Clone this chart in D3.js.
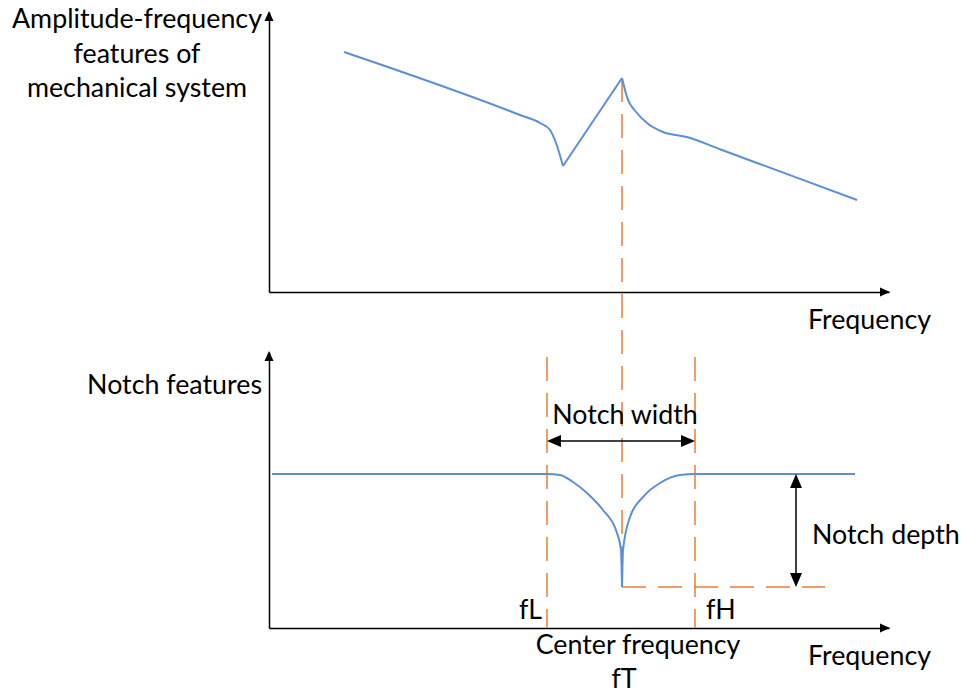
<!DOCTYPE html>
<html><head><meta charset="utf-8">
<script src="https://cdn.jsdelivr.net/npm/d3@7/dist/d3.min.js"></script>
<style>
html,body{margin:0;padding:0;background:#fff;}
text{font-family:Lato,"Open Sans",sans-serif;font-size:26.8px;fill:#000;}
</style></head>
<body>
<svg id="chart" width="961" height="695"></svg>
<script>
// ---- data (arbitrary units: frequency 0-100, amplitude 0-100) ----
// Top panel: amplitude-frequency response of the mechanical system
const topFreqA = [12.10, 40.48, 43.71, 45.32, 46.29, 47.42];
const topAmpA  = [85.71, 63.21, 60.36, 57.86, 53.21, 45.00];
const topFreqB = [47.42, 56.94];
const topAmpB  = [45.00, 76.43];
const topFreqC = [56.94, 57.74, 59.35, 60.97, 63.55, 67.42, 72.74, 84.03, 94.84];
const topAmpC  = [76.43, 69.64, 63.93, 60.36, 57.14, 55.36, 50.99, 41.73, 32.86];

// Bottom panel: notch filter features
const notchFreqL = [0.48, 44.84, 46.94, 49.03, 51.29, 53.87, 56.13, 56.77, 56.94];
const notchAmpL  = [55.80, 55.80, 55.43, 52.90, 48.91, 42.75, 34.42, 28.26, 14.86];
const notchFreqR = [56.94, 57.10, 58.23, 60.32, 63.06, 66.29, 68.71, 94.52];
const notchAmpR  = [14.86, 28.26, 40.22, 47.46, 52.54, 55.43, 55.80, 55.80];

// Key frequencies and levels
const fL = 44.84, fT = 56.94, fH = 68.71;
const passLevel = 55.80, notchBottom = 14.86;
const depthLineEnd = 89.68, depthArrowX = 85.0;
const guideTop = 98.2;

// Labels
const topYLabel = ["Amplitude-frequency", "features of", "mechanical system"];
const xLabel = "Frequency";
const bottomYLabel = "Notch features";
const widthLabel = "Notch width";
const depthLabel = "Notch depth";
const centerLabel = ["Center frequency", "fT"];
const fLLabel = "fL", fHLabel = "fH";

// ---- scales ----
const x = d3.scaleLinear().domain([0, 100]).range([269, 889]);
const yTop = d3.scaleLinear().domain([0, 100]).range([292, 12]);
const yBot = d3.scaleLinear().domain([0, 100]).range([628, 352]);

const svg = d3.select("#chart");
const blue = "#5B8FD6", orange = "#ED7D31";

function arrowHead(g, tipX, tipY, dir, len, half) {
  let pts;
  if (dir === "right") pts = [[tipX, tipY], [tipX - len, tipY - half], [tipX - len, tipY + half]];
  if (dir === "left") pts = [[tipX, tipY], [tipX + len, tipY - half], [tipX + len, tipY + half]];
  if (dir === "up") pts = [[tipX, tipY], [tipX - half, tipY + len], [tipX + half, tipY + len]];
  if (dir === "down") pts = [[tipX, tipY], [tipX - half, tipY - len], [tipX + half, tipY - len]];
  g.append("path").attr("d", "M" + pts.map(p => p.join(",")).join("L") + "Z").attr("fill", "#000");
}

// ---- axes ----
function drawAxes(yScale) {
  const gx = svg.append("g").attr("transform", `translate(0,${yScale(0)})`)
    .call(d3.axisBottom(x).tickValues([]).tickSizeOuter(0));
  const gy = svg.append("g").attr("transform", `translate(${x(0)},0)`)
    .call(d3.axisLeft(yScale).tickValues([]).tickSizeOuter(0));
  [gx, gy].forEach(g => g.select(".domain").attr("stroke", "#000").attr("stroke-width", 1.5));
  arrowHead(svg, x(100) + 1, yScale(0), "right", 10, 4.5);
  arrowHead(svg, x(0), yScale(100) - 1, "up", 10, 4.5);
}
drawAxes(yTop);
drawAxes(yBot);

// ---- guide lines (orange dashed) ----
const dash = "24,12";
function vline(xv, y1, y2) {
  svg.append("line").attr("x1", x(xv)).attr("x2", x(xv)).attr("y1", y1).attr("y2", y2)
    .attr("stroke", orange).attr("stroke-width", 1.5).attr("stroke-dasharray", dash);
}
vline(fT, yTop(topAmpB[1]), yBot(notchBottom));
vline(fL, yBot(guideTop), yBot(0));
vline(fH, yBot(guideTop), yBot(0));
svg.append("line").attr("x1", x(fT)).attr("x2", x(depthLineEnd))
  .attr("y1", yBot(notchBottom)).attr("y2", yBot(notchBottom))
  .attr("stroke", orange).attr("stroke-width", 1.5).attr("stroke-dasharray", dash);

// ---- curves ----
function drawCurve(xs, ys, yScale) {
  const line = d3.line().x(d => x(d[0])).y(d => yScale(d[1])).curve(d3.curveMonotoneX);
  svg.append("path").datum(xs.map((v, i) => [v, ys[i]])).attr("d", line)
    .attr("fill", "none").attr("stroke", blue).attr("stroke-width", 2).attr("stroke-linejoin", "round");
}
drawCurve(topFreqA, topAmpA, yTop);
drawCurve(topFreqB, topAmpB, yTop);
drawCurve(topFreqC, topAmpC, yTop);
drawCurve(notchFreqL, notchAmpL, yBot);
drawCurve(notchFreqR, notchAmpR, yBot);

// ---- notch width arrow ----
const wy = 441;
svg.append("line").attr("x1", x(fL) + 8).attr("x2", x(fH) - 8).attr("y1", wy).attr("y2", wy)
  .attr("stroke", "#000").attr("stroke-width", 1.5);
arrowHead(svg, x(fL), wy, "left", 14, 6);
arrowHead(svg, x(fH), wy, "right", 14, 6);

// ---- notch depth arrow ----
const dx = x(depthArrowX);
svg.append("line").attr("x1", dx).attr("x2", dx).attr("y1", yBot(passLevel) + 8).attr("y2", yBot(notchBottom) - 8)
  .attr("stroke", "#000").attr("stroke-width", 1.5);
arrowHead(svg, dx, yBot(passLevel), "up", 14, 6);
arrowHead(svg, dx, yBot(notchBottom), "down", 14, 6);

// ---- text ----
const tl = svg.append("text").attr("text-anchor", "middle");
topYLabel.forEach((s, i) => tl.append("tspan").attr("x", 137).attr("y", 28 + i * 34.5).text(s));
svg.append("text").attr("x", 808).attr("y", 329).text(xLabel);
svg.append("text").attr("x", 808).attr("y", 665).text(xLabel);
svg.append("text").attr("x", 262).attr("y", 394).attr("text-anchor", "end").text(bottomYLabel);
svg.append("text").attr("x", 625).attr("y", 424).attr("text-anchor", "middle").text(widthLabel);
svg.append("text").attr("x", 812).attr("y", 544).text(depthLabel);
svg.append("text").attr("x", 542).attr("y", 619).attr("text-anchor", "end").text(fLLabel);
svg.append("text").attr("x", 706).attr("y", 619).text(fHLabel);
svg.append("text").attr("x", 638).attr("y", 654).attr("text-anchor", "middle").text(centerLabel[0]);
svg.append("text").attr("x", 624).attr("y", 688).attr("text-anchor", "middle").text(centerLabel[1]);
</script>
</body></html>
